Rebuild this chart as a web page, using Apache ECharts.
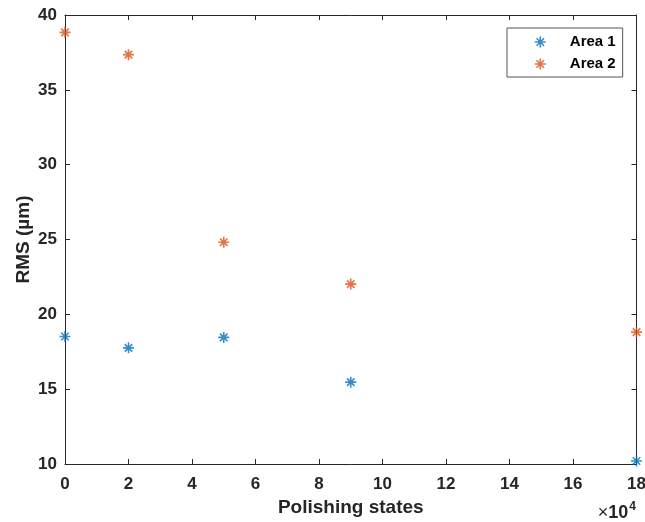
<!DOCTYPE html>
<html>
<head>
<meta charset="utf-8">
<script src="https://cdn.jsdelivr.net/npm/echarts@6/dist/echarts.min.js"></script>
<style>
html,body{margin:0;padding:0;background:#fff;}
#c{width:645px;height:522px;}
</style>
</head>
<body>
<div id="c"></div>
<script>
// Data
const polishingStates = [0, 20000, 50000, 90000, 180000];
const area1 = [18.52, 17.76, 18.46, 15.47, 10.2];
const area2 = [38.84, 37.35, 24.82, 22.02, 18.81];
const seriesNames = ['Area 1', 'Area 2'];
const xTickScale = 10000;

const FONT = 'Liberation Sans, Arial, Helvetica, sans-serif';
const AX = '#262626';
const C1 = '#0072BD';
const C2 = '#D95319';
const STAR = 'path://M5,0L5,10M0,5L10,5M1.6,1.6L8.4,8.4M1.6,8.4L8.4,1.6';

const chart = echarts.init(document.getElementById('c'));

function axisBase() {
  return {
    axisLine: {show: true, onZero: false, lineStyle: {color: AX, width: 1}},
    axisTick: {show: true, inside: true, length: 5, lineStyle: {color: AX, width: 1}},
    splitLine: {show: false}
  };
}

const xMin = 0, xMax = 180000, xInt = 20000;
const yMin = 10, yMax = 40, yInt = 5;

chart.setOption({
  animation: false,
  backgroundColor: '#fff',
  grid: {left: 65, right: 8.5, top: 15, bottom: 58, containLabel: false, outerBoundsMode: 'none'},
  xAxis: [
    Object.assign(axisBase(), {
      type: 'value', position: 'bottom', min: xMin, max: xMax, interval: xInt,
      name: 'Polishing states', nameLocation: 'middle', nameGap: 34, nameMoveOverlap: false,
      nameTextStyle: {fontFamily: FONT, fontWeight: 'bold', fontSize: 19, color: AX},
      axisLabel: {margin: 12, fontFamily: FONT, fontWeight: 'bold', fontSize: 17, color: AX,
        formatter: v => String(v / xTickScale)}
    }),
    Object.assign(axisBase(), {
      type: 'value', position: 'top', min: xMin, max: xMax, interval: xInt,
      axisLabel: {show: false}
    })
  ],
  yAxis: [
    Object.assign(axisBase(), {
      type: 'value', position: 'left', min: yMin, max: yMax, interval: yInt,
      name: 'RMS (µm)', nameLocation: 'middle', nameGap: 32, nameMoveOverlap: false,
      nameTextStyle: {fontFamily: FONT, fontWeight: 'bold', fontSize: 19, color: AX},
      axisLabel: {margin: 8, fontFamily: FONT, fontWeight: 'bold', fontSize: 17, color: AX}
    }),
    Object.assign(axisBase(), {
      type: 'value', position: 'right', min: yMin, max: yMax, interval: yInt,
      axisLabel: {show: false}
    })
  ],
  legend: {
    orient: 'vertical', left: 507, top: 28,
    padding: [5, 7, 4, 27],
    itemWidth: 11, itemHeight: 11, itemGap: 4,
    backgroundColor: '#fff',
    borderColor: '#555', borderWidth: 1,
    textStyle: {fontFamily: FONT, fontWeight: 'bold', fontSize: 15, color: '#000', padding: [0, 0, 0, 19], lineHeight: 18},
    data: [
      {name: seriesNames[0], icon: STAR, itemStyle: {color: C1, borderColor: C1, borderWidth: 1.6}},
      {name: seriesNames[1], icon: STAR, itemStyle: {color: C2, borderColor: C2, borderWidth: 1.6}}
    ]
  },
  graphic: [{
    type: 'text', right: 9, top: 501,
    style: {
      text: '{x|×}{b|10}{s|4}',
      rich: {
        x: {fontFamily: FONT, fontSize: 18, fill: AX, verticalAlign: 'bottom'},
        b: {fontFamily: FONT, fontSize: 18, fontWeight: 'bold', fill: AX, verticalAlign: 'bottom'},
        s: {fontFamily: FONT, fontSize: 12, fontWeight: 'bold', fill: AX, padding: [0, 0, 9, 1], verticalAlign: 'bottom'}
      }
    }
  }],
  series: [
    {
      name: seriesNames[0], type: 'scatter', clip: false,
      symbol: STAR, symbolSize: 11,
      itemStyle: {color: C1, borderColor: C1, borderWidth: 1.6},
      data: polishingStates.map((x, i) => [x, area1[i]])
    },
    {
      name: seriesNames[1], type: 'scatter', clip: false,
      symbol: STAR, symbolSize: 11,
      itemStyle: {color: C2, borderColor: C2, borderWidth: 1.6},
      data: polishingStates.map((x, i) => [x, area2[i]])
    }
  ]
});
</script>
</body>
</html>
